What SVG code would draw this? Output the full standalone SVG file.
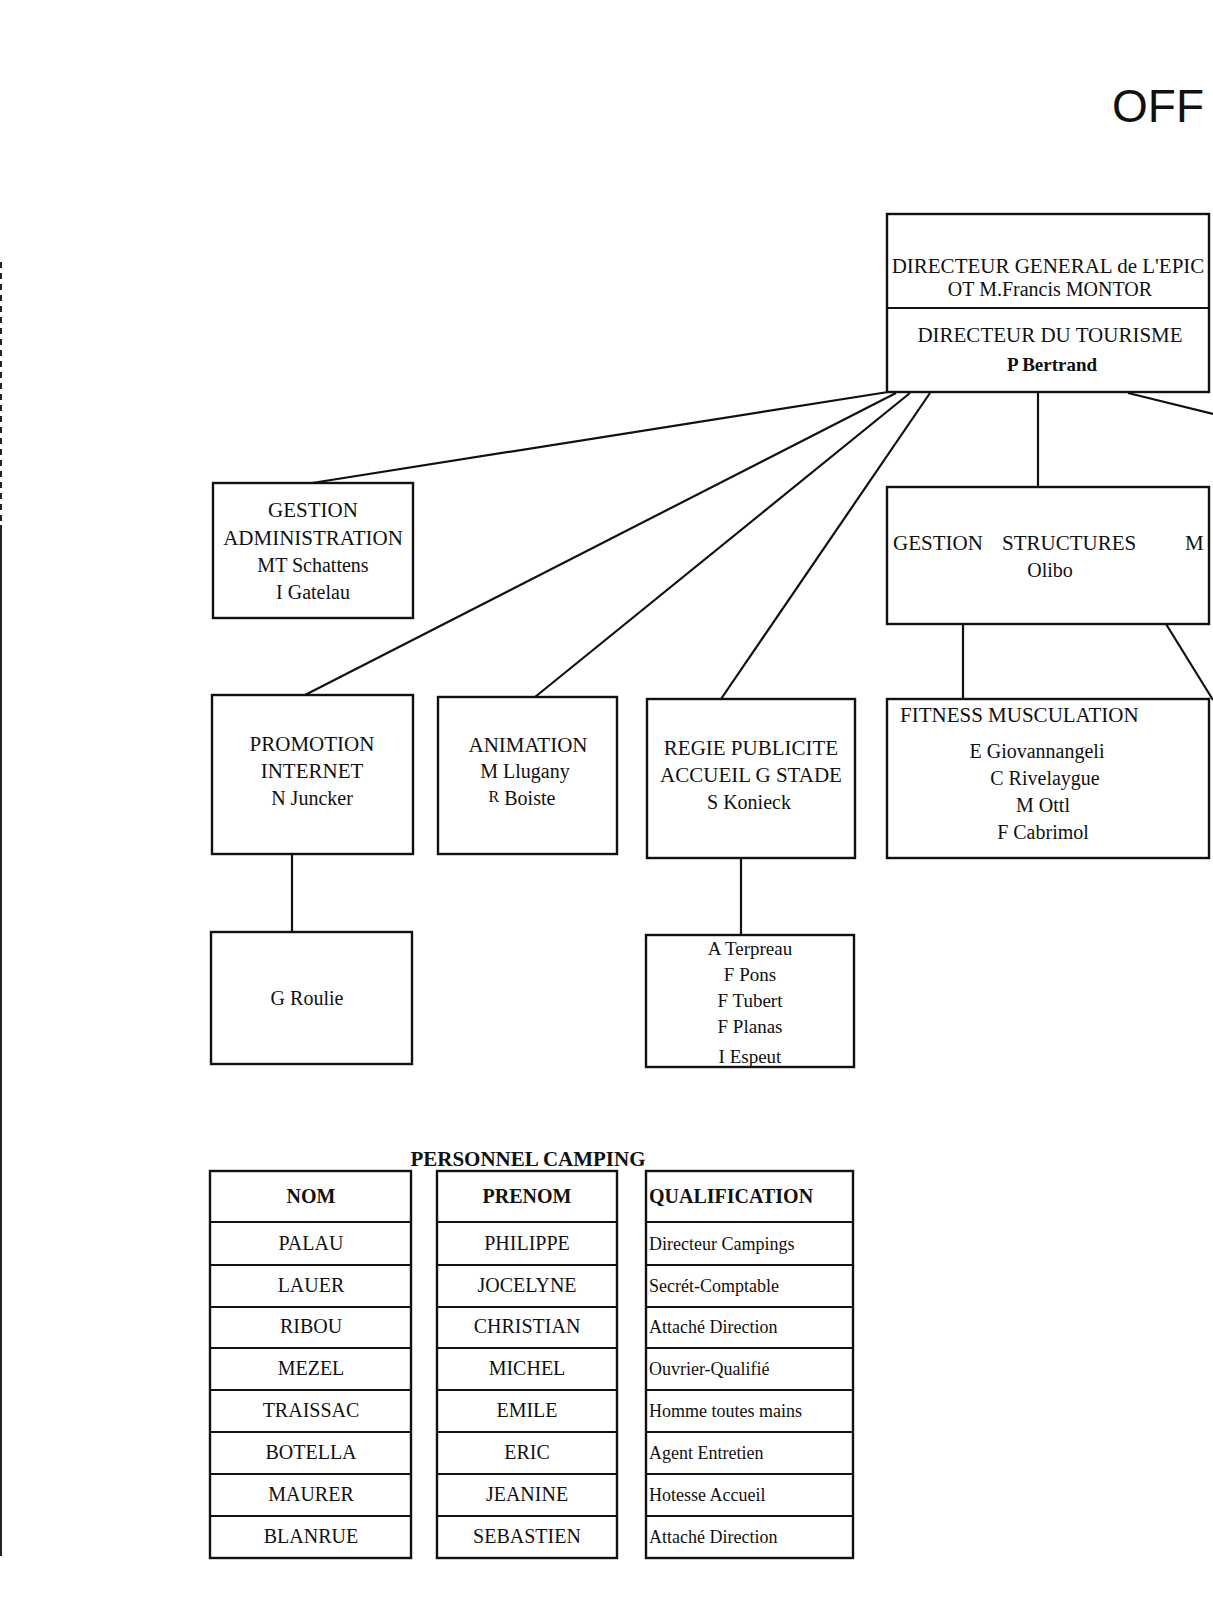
<svg xmlns="http://www.w3.org/2000/svg" width="1213" height="1600" viewBox="0 0 1213 1600">
<style>
  .box{fill:#fff;stroke:#111;stroke-width:2.4}
  .ln{stroke:#111;stroke-width:2.2;fill:none}
  text{font-family:"Liberation Serif","Times New Roman",serif;fill:#111;font-size:20px}
  .c{text-anchor:middle}
  .h{font-size:21px}
  .b{font-weight:bold}
</style>
<rect width="1213" height="1600" fill="#fff"/>
<line x1="1" y1="262" x2="1" y2="525" stroke="#222" stroke-width="2" stroke-dasharray="6,5"/>
<line x1="1" y1="525" x2="1" y2="1556" stroke="#222" stroke-width="2"/>
<text x="1112" y="122" style="font-family:'Liberation Sans',Arial,sans-serif;font-size:46px">OFF</text>

<g id="connectors">
  <line class="ln" x1="888" y1="392" x2="312" y2="483"/>
  <line class="ln" x1="896" y1="393" x2="305" y2="695"/>
  <line class="ln" x1="910" y1="393" x2="535" y2="697"/>
  <line class="ln" x1="930" y1="393" x2="721" y2="699"/>
  <line class="ln" x1="1038" y1="393" x2="1038" y2="487"/>
  <line class="ln" x1="1128" y1="393" x2="1213" y2="414"/>
  <line class="ln" x1="963" y1="624" x2="963" y2="699"/>
  <line class="ln" x1="1166" y1="624" x2="1213" y2="700"/>
  <line class="ln" x1="292" y1="854" x2="292" y2="932"/>
  <line class="ln" x1="741" y1="837" x2="741" y2="935"/>
</g>

<g id="directeur">
  <rect class="box" x="887" y="214" width="322" height="178"/>
  <line class="ln" x1="887" y1="308" x2="1209" y2="308" stroke-width="2.6"/>
  <text class="c h" x="1048" y="273">DIRECTEUR GENERAL de L'EPIC</text>
  <text class="c" x="1050" y="296">OT M.Francis MONTOR</text>
  <text class="c h" x="1050" y="342">DIRECTEUR DU TOURISME</text>
  <text class="c b" x="1052" y="371" style="font-size:19px">P Bertrand</text>
</g>

<g id="gestion-administration">
  <rect class="box" x="213" y="483" width="200" height="135"/>
  <text class="c h" x="313" y="517">GESTION</text>
  <text class="c h" x="313" y="545">ADMINISTRATION</text>
  <text class="c" x="313" y="572">MT Schattens</text>
  <text class="c" x="313" y="599">I Gatelau</text>
</g>

<g id="gestion-structures">
  <rect class="box" x="887" y="487" width="322" height="137"/>
  <text class="h" y="550"><tspan x="893">GESTION</tspan><tspan x="1002">STRUCTURES</tspan><tspan x="1185">M</tspan></text>
  <text class="c" x="1050" y="577">Olibo</text>
</g>

<g id="promotion">
  <rect class="box" x="212" y="695" width="201" height="159"/>
  <text class="c h" x="312" y="751">PROMOTION</text>
  <text class="c h" x="312" y="778">INTERNET</text>
  <text class="c" x="312" y="805">N Juncker</text>
</g>

<g id="animation">
  <rect class="box" x="438" y="697" width="179" height="157"/>
  <text class="c h" x="528" y="752">ANIMATION</text>
  <text class="c" x="525" y="778">M Llugany</text>
  <text class="c" x="522" y="805"><tspan style="font-size:16px" dy="-3">R</tspan><tspan dy="3"> Boiste</tspan></text>
</g>

<g id="regie">
  <rect class="box" x="647" y="699" width="208" height="159"/>
  <text class="c h" x="751" y="755">REGIE PUBLICITE</text>
  <text class="c h" x="751" y="782">ACCUEIL G STADE</text>
  <text class="c" x="749" y="809">S Konieck</text>
</g>

<g id="fitness">
  <rect class="box" x="887" y="699" width="322" height="159"/>
  <text class="h" x="900" y="722">FITNESS MUSCULATION</text>
  <text class="c" x="1037" y="758">E Giovannangeli</text>
  <text class="c" x="1045" y="785">C Rivelaygue</text>
  <text class="c" x="1043" y="812">M Ottl</text>
  <text class="c" x="1043" y="839">F Cabrimol</text>
</g>

<g id="roulie">
  <rect class="box" x="211" y="932" width="201" height="132"/>
  <text class="c" x="307" y="1005">G Roulie</text>
</g>

<g id="terpreau">
  <text class="c" x="750" y="955" style="font-size:19px">A Terpreau</text>
  <text class="c" x="750" y="981" style="font-size:19px">F Pons</text>
  <text class="c" x="750" y="1007" style="font-size:19px">F Tubert</text>
  <text class="c" x="750" y="1033" style="font-size:19px">F Planas</text>
  <text class="c" x="750" y="1063" style="font-size:19px">I Espeut</text>
  <rect class="box" x="646" y="935" width="208" height="132" style="fill:none"/>
</g>

<g id="personnel-camping">
  <text class="c b h" x="528" y="1166">PERSONNEL CAMPING</text>
  <g id="col-nom">
    <rect class="box" x="210" y="1171" width="201" height="387"/>
    <path class="ln" d="M210 1222H411M210 1265H411M210 1307H411M210 1348H411M210 1390H411M210 1432H411M210 1474H411M210 1516H411"/>
    <text class="c b" x="311" y="1203">NOM</text>
    <text class="c" x="311" y="1250">PALAU</text>
    <text class="c" x="311" y="1292">LAUER</text>
    <text class="c" x="311" y="1333">RIBOU</text>
    <text class="c" x="311" y="1375">MEZEL</text>
    <text class="c" x="311" y="1417">TRAISSAC</text>
    <text class="c" x="311" y="1459">BOTELLA</text>
    <text class="c" x="311" y="1501">MAURER</text>
    <text class="c" x="311" y="1543">BLANRUE</text>
  </g>
  <g id="col-prenom">
    <rect class="box" x="437" y="1171" width="180" height="387"/>
    <path class="ln" d="M437 1222H617M437 1265H617M437 1307H617M437 1348H617M437 1390H617M437 1432H617M437 1474H617M437 1516H617"/>
    <text class="c b" x="527" y="1203">PRENOM</text>
    <text class="c" x="527" y="1250">PHILIPPE</text>
    <text class="c" x="527" y="1292">JOCELYNE</text>
    <text class="c" x="527" y="1333">CHRISTIAN</text>
    <text class="c" x="527" y="1375">MICHEL</text>
    <text class="c" x="527" y="1417">EMILE</text>
    <text class="c" x="527" y="1459">ERIC</text>
    <text class="c" x="527" y="1501">JEANINE</text>
    <text class="c" x="527" y="1543">SEBASTIEN</text>
  </g>
  <g id="col-qualification">
    <rect class="box" x="646" y="1171" width="207" height="387"/>
    <path class="ln" d="M646 1222H853M646 1265H853M646 1307H853M646 1348H853M646 1390H853M646 1432H853M646 1474H853M646 1516H853"/>
    <text class="b" x="649" y="1203">QUALIFICATION</text>
    <text x="649" y="1250" style="font-size:18px">Directeur Campings</text>
    <text x="649" y="1292" style="font-size:18px">Secrét-Comptable</text>
    <text x="649" y="1333" style="font-size:18px">Attaché Direction</text>
    <text x="649" y="1375" style="font-size:18px">Ouvrier-Qualifié</text>
    <text x="649" y="1417" style="font-size:18px">Homme toutes mains</text>
    <text x="649" y="1459" style="font-size:18px">Agent Entretien</text>
    <text x="649" y="1501" style="font-size:18px">Hotesse Accueil</text>
    <text x="649" y="1543" style="font-size:18px">Attaché Direction</text>
  </g>
</g>
</svg>
